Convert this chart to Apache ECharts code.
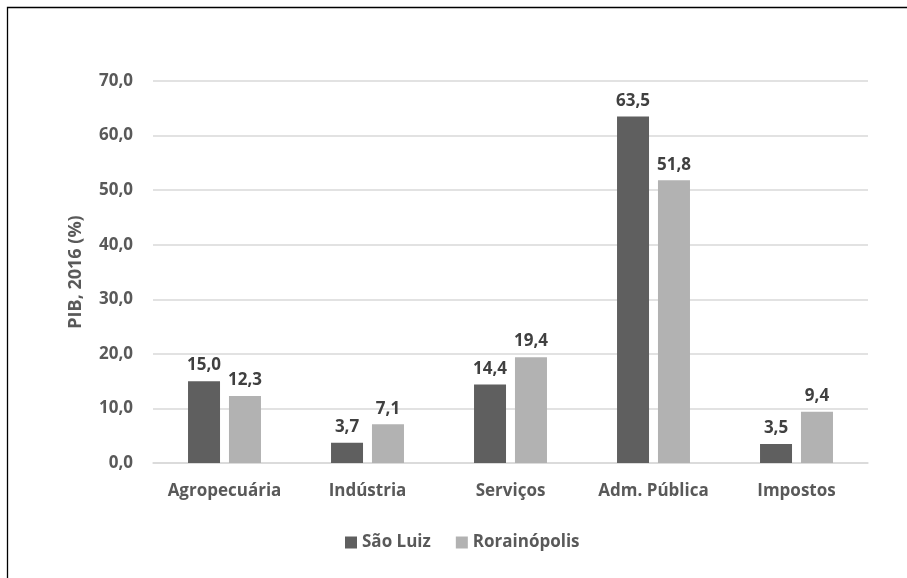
<!DOCTYPE html>
<html><head><meta charset="utf-8">
<script src="https://cdn.jsdelivr.net/npm/echarts@6/dist/echarts.min.js"></script>
<style>html,body{margin:0;padding:0;background:#fff}#c{width:907px;height:578px}</style>
</head><body><div id="c"></div>
<script>
const categories = ['Agropecuária','Indústria','Serviços','Adm. Pública','Impostos'];
const saoLuiz = [15.0, 3.7, 14.4, 63.5, 3.5];
const rorainopolis = [12.3, 7.1, 19.4, 51.8, 9.4];
const seriesNames = ['São Luiz','Rorainópolis'];
const FONT = '"Open Sans", "Noto Sans", sans-serif';
const FS = 17;
const fmt = v => v.toFixed(1).replace('.', ',');
const chart = echarts.init(document.getElementById('c'));
chart.setOption({
  animation:false,
  graphic:[{type:'polyline',shape:{points:[[7.5,600],[7.5,7.5],[920,7.5]]},style:{stroke:'#000',lineWidth:1.3,fill:null}}],
  grid:{left:153,right:39,top:81,bottom:115},
  legend:{bottom:22,left:340,itemWidth:12,itemHeight:12,itemGap:25,icon:'rect',
    textStyle:{fontFamily:FONT,fontSize:FS,fontWeight:'bold',color:'#595959'},data:seriesNames},
  xAxis:{type:'category',data:categories,axisTick:{show:false},
    axisLine:{lineStyle:{color:'#d9d9d9',width:1.5}},
    axisLabel:{interval:0,hideOverlap:false,fontFamily:FONT,fontSize:FS,fontWeight:'bold',color:'#595959',margin:20}},
  yAxis:{type:'value',min:0,max:70,interval:10,
    name:'PIB, 2016 (%)',nameLocation:'middle',nameGap:68,
    nameTextStyle:{fontFamily:FONT,fontSize:18,fontWeight:'bold',color:'#595959'},
    axisLabel:{fontFamily:FONT,fontSize:FS,fontWeight:'bold',color:'#595959',margin:20,formatter:fmt},
    splitLine:{lineStyle:{color:'#d9d9d9',width:1.5}}},
  series:[
    {name:seriesNames[0],type:'bar',data:saoLuiz,barWidth:32,barGap:'28%',
     itemStyle:{color:'#5f5f5f'},
     label:{show:true,position:'top',distance:7,formatter:p=>fmt(p.value),fontFamily:FONT,fontSize:FS,fontWeight:'bold',color:'#404040'}},
    {name:seriesNames[1],type:'bar',data:rorainopolis,barWidth:32,
     itemStyle:{color:'#b2b2b2'},
     label:{show:true,position:'top',distance:7,formatter:p=>fmt(p.value),fontFamily:FONT,fontSize:FS,fontWeight:'bold',color:'#404040'}}
  ]
});
</script></body></html>
